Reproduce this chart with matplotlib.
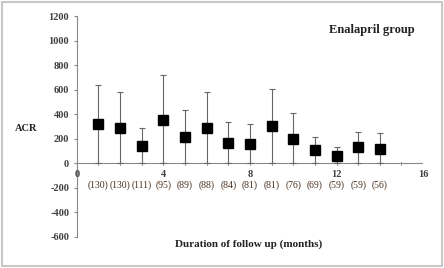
import matplotlib.pyplot as plt
import numpy as np
from matplotlib.patches import Rectangle

months = [1, 2, 3, 4, 5, 6, 7, 8, 9, 10, 11, 12, 13, 14]
acr_mean = [318, 290, 145, 355, 215, 285, 165, 160, 300, 200, 110, 60, 130, 118]
acr_upper = [640, 585, 290, 720, 435, 585, 335, 320, 605, 410, 215, 130, 255, 248]
counts = ['(130)', '(130)', '(111)', '(95)', '(89)', '(88)', '(84)', '(81)',
          '(81)', '(76)', '(69)', '(59)', '(59)', '(56)']
yticks = [-600, -400, -200, 0, 200, 400, 600, 800, 1000, 1200]
xlabels = [0, 4, 8, 12, 16]

font = 'Liberation Serif'
tc = '#404040'

fig = plt.figure(figsize=(4.44, 2.68), dpi=100)
ax = fig.add_axes([0.173, 0.116, 0.78, 0.824])

mean = np.array(acr_mean)
err_hi = np.array(acr_upper) - mean
err_lo = mean  # bars run down to zero
ax.errorbar(months, mean, yerr=[err_lo, err_hi], fmt='none', ecolor='#666666',
            elinewidth=0.8, capsize=2.5, capthick=0.8, zorder=2)
ax.plot(months, mean, 's', color='black', markersize=7.8, zorder=3)

ax.set_xlim(0, 16)
ax.set_ylim(-600, 1200)

for s in ['top', 'right', 'bottom']:
    ax.spines[s].set_visible(False)
ax.spines['left'].set_color('#888888')
ax.spines['left'].set_linewidth(0.8)
ax.axhline(0, color='#888888', lw=0.8, zorder=1)

ax.set_yticks(yticks)
ax.set_yticklabels([str(v) for v in yticks], fontfamily=font, fontweight='bold',
                   fontsize=7.5, color=tc)
ax.tick_params(axis='y', length=2.5, color='#888888', pad=3)

# x ticks drawn crossing the zero line
ax.set_xticks([])
for m in range(0, 17):
    ax.plot([m, m], [-12, 12], color='#888888', lw=0.6, zorder=1)
for m in xlabels:
    ax.text(m, -55, str(m), ha='center', va='top', fontfamily=font,
            fontweight='bold', fontsize=7.5, color=tc)

for m, c in zip(months, counts):
    ax.text(m, -140, c, ha='center', va='top', fontfamily=font,
            fontsize=7, color='#4a3020')

ax.text(0.975, 0.965, 'Enalapril group', transform=ax.transAxes, ha='right', va='top',
        fontfamily=font, fontweight='bold', fontsize=9, color='#222222')
fig.text(0.06, 0.52, 'ACR', ha='center', va='center', fontfamily=font,
         fontweight='bold', fontsize=7.5, color='#222222')
fig.text(0.56, 0.09, 'Duration of follow up (months)', ha='center', va='center',
         fontfamily=font, fontweight='bold', fontsize=8, color='#222222')

fig.patches.append(Rectangle((0.004, 0.006), 0.992, 0.988, transform=fig.transFigure,
                             fill=False, edgecolor='#c8c8c8', lw=1.5))

fig.savefig('out.png', dpi=100)
